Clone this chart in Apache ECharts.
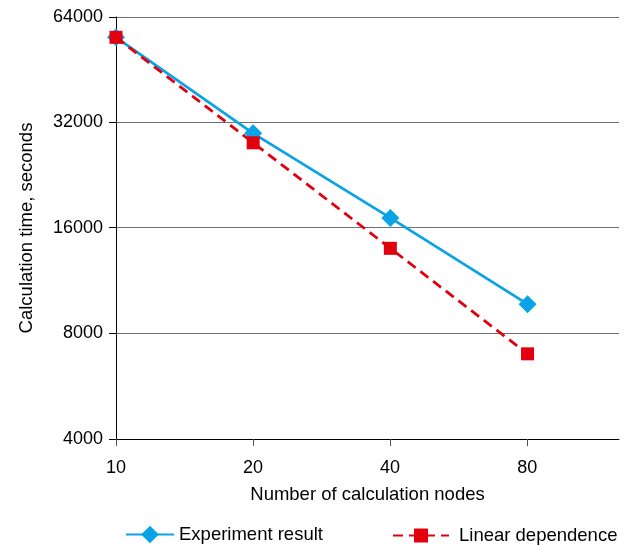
<!DOCTYPE html>
<html><head><meta charset="utf-8">
<script src="https://cdn.jsdelivr.net/npm/echarts@6/dist/echarts.min.js"></script>
<style>html,body{margin:0;padding:0;background:#fff}#c{width:629px;height:546px}</style>
</head><body><div id="c"></div>
<script>
const nodes = [10, 20, 40, 80];
const experiment = [56000, 29800, 17100, 9700];
const linear = [56000, 28000, 14000, 7000];
const xTicks = [10, 20, 40, 80];
const yTicks = [4000, 8000, 16000, 32000, 64000];

const font = 'Liberation Sans, Arial, sans-serif';
const chart = echarts.init(document.getElementById('c'));
function near(v, list){ return list.find(t => Math.abs(t - v) / t < 0.01); }
chart.setOption({
  animation: false,
  grid: { left: 116, right: 10, top: 17, bottom: 107, containLabel: false },
  legend: [
    { left: 120, top: 520, itemWidth: 48, itemHeight: 22,
      textStyle: { fontFamily: font, fontSize: 18.5, color: '#000' },
      data: ['Experiment result'] },
    { left: 387, top: 521, itemWidth: 56, itemHeight: 17.5,
      textStyle: { fontFamily: font, fontSize: 18.5, color: '#000', padding: [0, 0, 0, 5] },
      data: ['Linear dependence'] }
  ],
  xAxis: {
    type: 'log', logBase: 2, min: 10, max: 127, interval: 1,
    name: 'Number of calculation nodes', nameLocation: 'middle', nameGap: 46,
    nameTextStyle: { fontFamily: font, fontSize: 18.5, color: '#000' },
    axisLine: { lineStyle: { color: '#000', width: 1 } },
    axisTick: { show: true, length: 7, lineStyle: { color: '#555' }, customValues: xTicks },
    axisLabel: { fontFamily: font, fontSize: 18, color: '#000', margin: 20,
      formatter: v => { const t = near(v, xTicks); return t ? String(t) : ''; } },
    splitLine: { show: false }
  },
  yAxis: {
    type: 'log', logBase: 2, min: 4000, max: 64000, interval: 1,
    name: 'Calculation time, seconds', nameLocation: 'middle', nameGap: 80,
    nameTextStyle: { fontFamily: font, fontSize: 18.5, color: '#000' },
    axisLine: { show: true, lineStyle: { color: '#000', width: 1 } },
    axisTick: { show: true, length: 7, lineStyle: { color: '#000' } },
    axisLabel: { fontFamily: font, fontSize: 18, color: '#000', margin: 13,
      formatter: v => { const t = near(v, yTicks); return t ? String(t) : ''; } },
    splitLine: { show: true, lineStyle: { color: '#707070', width: 1.2 } }
  },
  series: [
    { name: 'Experiment result', type: 'line', data: nodes.map((n, i) => [n, experiment[i]]),
      symbol: 'diamond', symbolSize: 18, color: '#0AA3E6',
      lineStyle: { width: 2.8, color: '#0AA3E6' }, itemStyle: { color: '#0AA3E6' }, z: 2 },
    { name: 'Linear dependence', type: 'line', data: nodes.map((n, i) => [n, linear[i]]),
      symbol: 'rect', symbolSize: 13, color: '#E2000F',
      lineStyle: { width: 2.8, type: [10, 6], color: '#E2000F' }, itemStyle: { color: '#E2000F' }, z: 3 }
  ]
});
</script></body></html>
